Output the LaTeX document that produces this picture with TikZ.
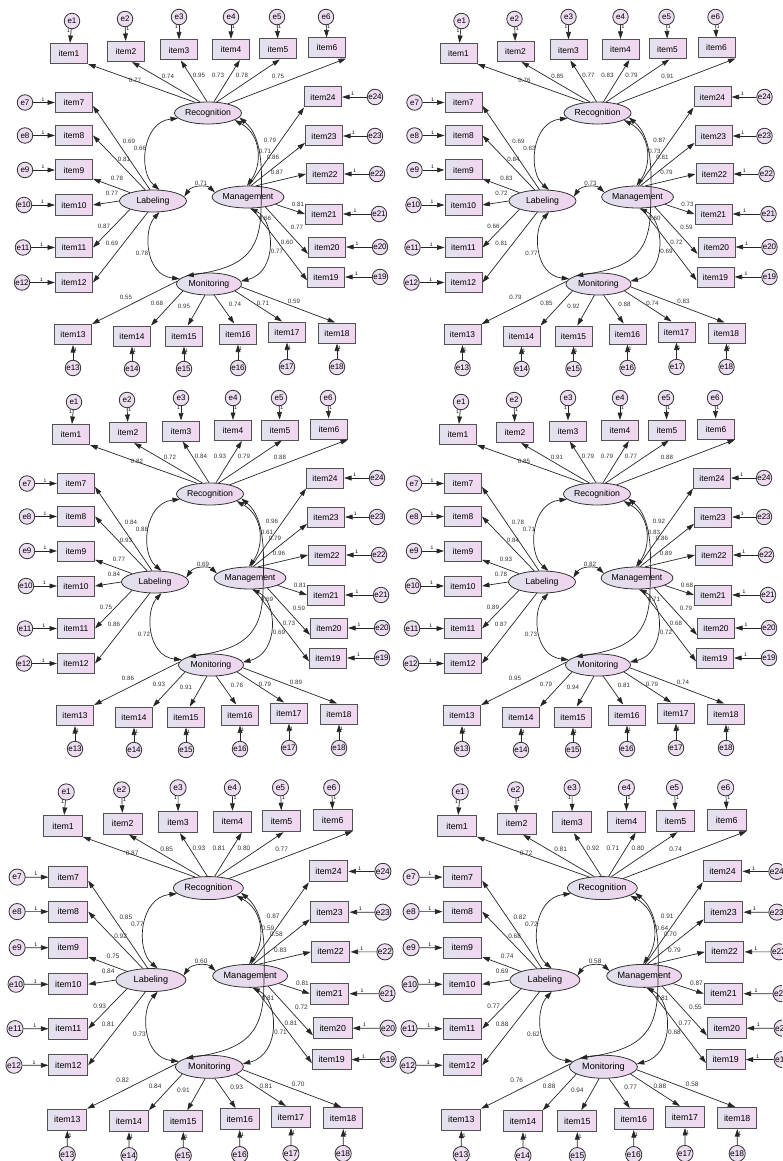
\documentclass[tikz,border=0pt]{standalone}
\usepackage{fontspec}
\setmainfont{Liberation Sans}
\usetikzlibrary{shapes.geometric,arrows.meta}

\definecolor{boxL}{HTML}{E2E2EE}
\definecolor{boxR}{HTML}{F2D6F0}
\definecolor{latL}{HTML}{E0E0EC}
\definecolor{latR}{HTML}{F0D4EE}
\definecolor{errfill}{HTML}{ECDDF0}

\tikzset{
  obs/.style={rectangle, draw=black!68, line width=1pt, left color=boxL, right color=boxR,
    minimum width=37pt, minimum height=20pt, inner sep=0pt, font=\fontsize{8.4}{9}\selectfont},
  latent/.style={ellipse, draw=black!80, line width=0.8pt, left color=latL, right color=latR,
    minimum width=67pt, minimum height=22pt, inner sep=0pt, font=\fontsize{8.7}{10}\selectfont},
  err/.style={circle, draw=black!80, line width=0.8pt, fill=errfill, minimum size=15.5pt,
    inner sep=0pt, font=\fontsize{8}{9}\selectfont},
  coef/.style={font=\fontsize{6.2}{7}\selectfont, text=black!80, inner sep=0pt},
  one/.style={font=\fontsize{5}{6}\selectfont, inner sep=0.8pt},
  loading/.style={-{Triangle[length=7.5pt,width=4.8pt]}, line width=0.7pt, draw=black!85},
  errarrow/.style={loading},
  covar/.style={{Triangle[length=7.5pt,width=4.8pt]}-{Triangle[length=7.5pt,width=4.8pt]},
    line width=0.7pt, draw=black!85},
}

% #1 prefix, #2/#3 offset, #4 scale, #5 the 30 estimates
\newcommand{\sempanel}[5]{%
\begin{scope}[shift={(#2,#3)},scale=#4,transform shape]
  % latent factors
  \node[latent] (#1-rec) at (208,113) {Recognition};
  \node[latent] (#1-lab) at (153,201) {Labeling};
  \node[latent,minimum width=70pt] (#1-man) at (248,197) {Management};
  \node[latent,minimum width=65pt] (#1-mon) at (209,284) {Monitoring};
  % Recognition indicators
  \foreach \i/\x/\y/\ex/\ey/\side/\ang/\tip in {1/69/53.5/72/21/east/140/south east,
      2/126/51.5/125/19/west/125/-60, 3/179/50/179/17/east/95/-80,
      4/231/49.5/231/17/west/62/-50, 5/278/49/277/17/west/52/-80,
      6/327/48/326/17/west/25/south east}{
    \node[obs] (#1-item\i) at (\x,\y) {item\i};
    \node[err] (#1-e\i) at (\ex,\ey) {e\i};
    \draw[errarrow] (#1-e\i) -- (#1-item\i) node[one,pos=0.12,anchor=\side] (#1-u\i) {1};
    \draw[loading] (#1-rec.\ang) -- (#1-item\i.\tip);
  }
  % Labeling indicators
  \foreach \i/\y/\ex/\ang/\tip in {7/102.5/25/105/-10, 8/135.5/25/125/east, 9/170/25/160/-25,
      10/205/24/180/east, 11/247.5/23/200/east, 12/282.5/22/245/east}{
    \node[obs] (#1-item\i) at (74,\y) {item\i};
    \node[err] (#1-e\i) at (\ex,\y) {e\i};
    \draw[errarrow] (#1-e\i) -- (#1-item\i) node[one,pos=0.45,anchor=south] (#1-u\i) {1};
    \draw[loading] (#1-lab.\ang) -- (#1-item\i.\tip);
  }
  % Management indicators
  \foreach \i/\x/\y/\ex/\ang/\tip in {24/323/97/375/85/south west, 23/324/136/375/75/200,
      22/325/174/377/55/west, 21/324/214/379/345/west, 20/327/247/380/330/200,
      19/326/277/380/290/190}{
    \node[obs] (#1-item\i) at (\x,\y) {item\i};
    \node[err] (#1-e\i) at (\ex,\y) {e\i};
    \draw[errarrow] (#1-e\i) -- (#1-item\i) node[one,pos=0.57,anchor=south] (#1-u\i) {1};
    \draw[loading] (#1-man.\ang) -- (#1-item\i.\tip);
  }
  % Monitoring indicators
  \foreach \i/\x/\y/\ey/\ang/\tip in {13/73/334.5/368/175/north east, 14/132/336/369/195/north east,
      15/184/336/369/250/70, 16/238/334/368/295/110, 17/287/332/367/345/115,
      18/337/333/367/355/100}{
    \node[obs] (#1-item\i) at (\x,\y) {item\i};
    \node[err] (#1-e\i) at (\x,\ey) {e\i};
    \draw[errarrow] (#1-e\i) -- (#1-item\i) node[one,pos=0.7,anchor=west] (#1-u\i) {1};
    \draw[loading] (#1-mon.\ang) -- (#1-item\i.\tip);
  }
  % factor covariances
  \draw[covar] (#1-lab.60) .. controls (138,172) and (142,122) .. (#1-rec.190);
  \draw[covar] (#1-lab.8) .. controls (192,185) and (207,185) .. (#1-man.172);
  \draw[covar] (#1-lab.300) .. controls (143,230) and (145,275) .. (#1-mon.170);
  \draw[covar] (#1-rec.345) .. controls (262,135) and (262,165) .. (#1-man.95);
  \draw[covar] (#1-rec.352) .. controls (264,138) and (262,175) .. (261,210)
    .. controls (260,255) and (240,268) .. (#1-mon.160);
  \draw[covar] (#1-man.280) .. controls (275,220) and (278,272) .. (#1-mon.5);
  % estimates
  \foreach \x/\y [count=\i] in {135/80,168/76,199/75,218/75,242/75,278/76,
      129/141,140/148,124/159,117/178,112/193,104/226,112/243,142/253,
      201/183,
      270/140,265/151,273/157,277/172,298/204,297/227,265/218,287/242,277/251,
      126/297,157/303,184/306,235/304,263/303,294/301}
    \coordinate (#1-l\i) at (\x,\y);
  \foreach \v [count=\i] in {#5}
    \node[coef] (#1-c\i) at (#1-l\i) {\v};
\end{scope}}

\begin{document}
\begin{tikzpicture}[x=1pt,y=-1pt]
\clip (0,0) rectangle (782,1161);
\fill[white] (0,0) rectangle (782,1161);

\sempanel{pa}{0}{0}{1}{0.77,0.74,0.95,0.73,0.78,0.75,
  0.69,0.66,0.81,0.78,0.77,0.87,0.69,0.78, 0.71,
  0.79,0.71,0.86,0.87,0.81,0.77,0.66,0.60,0.77,
  0.55,0.68,0.95,0.74,0.71,0.59}
\sempanel{pb}{389.5}{0}{1}{0.76,0.85,0.77,0.83,0.79,0.91,
  0.69,0.63,0.84,0.83,0.72,0.66,0.81,0.77, 0.73,
  0.87,0.73,0.81,0.79,0.73,0.59,0.60,0.72,0.69,
  0.79,0.85,0.92,0.88,0.74,0.83}
\sempanel{pc}{2}{381}{1}{0.82,0.72,0.84,0.93,0.79,0.88,
  0.84,0.88,0.93,0.77,0.84,0.75,0.86,0.72, 0.69,
  0.96,0.61,0.79,0.96,0.81,0.59,0.69,0.73,0.69,
  0.86,0.93,0.91,0.76,0.79,0.89}
\sempanel{pd}{389}{381}{1}{0.85,0.91,0.79,0.79,0.77,0.88,
  0.78,0.71,0.84,0.93,0.78,0.89,0.87,0.73, 0.82,
  0.92,0.83,0.86,0.89,0.68,0.79,0.71,0.68,0.72,
  0.95,0.79,0.94,0.81,0.79,0.74}
\sempanel{pe}{-9}{770}{1.045}{0.87,0.85,0.93,0.81,0.80,0.77,
  0.85,0.77,0.92,0.75,0.84,0.93,0.81,0.73, 0.60,
  0.87,0.59,0.58,0.83,0.81,0.72,0.81,0.81,0.71,
  0.82,0.84,0.91,0.93,0.81,0.70}
\sempanel{pf}{385}{770}{1.045}{0.72,0.81,0.92,0.71,0.80,0.74,
  0.82,0.72,0.68,0.74,0.69,0.77,0.88,0.62, 0.58,
  0.91,0.64,0.70,0.79,0.87,0.55,0.81,0.77,0.68,
  0.76,0.88,0.94,0.77,0.88,0.58}
\end{tikzpicture}
\end{document}
